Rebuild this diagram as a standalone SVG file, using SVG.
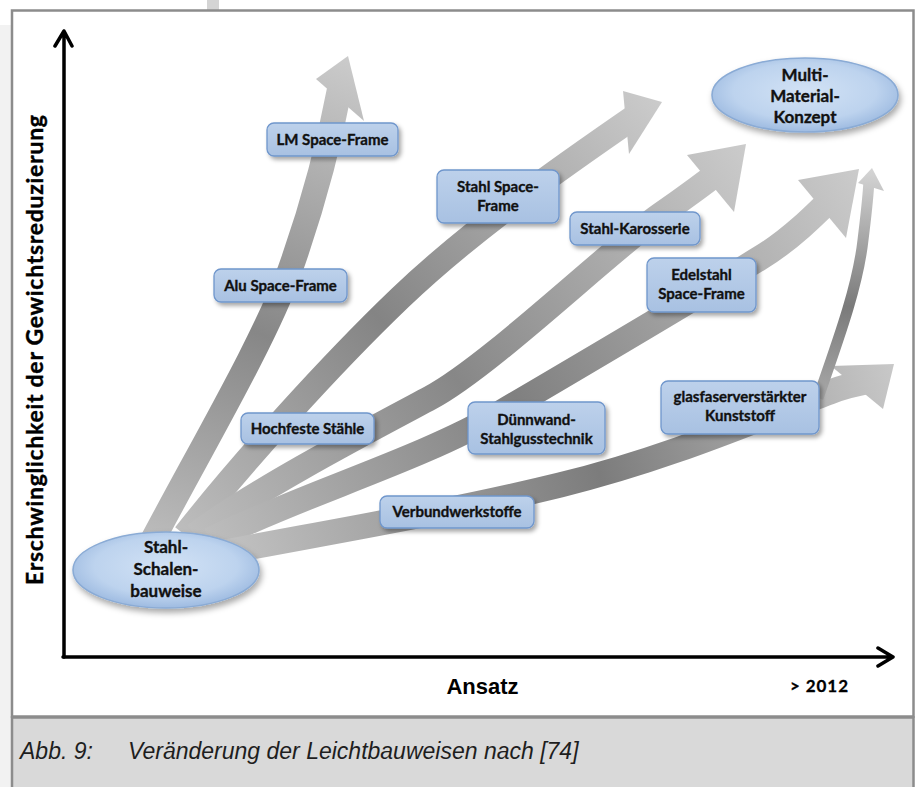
<svg xmlns="http://www.w3.org/2000/svg" width="917" height="787" viewBox="0 0 917 787">
<defs>
<style>
.box{fill:url(#boxg);stroke:#6f96cc;stroke-width:1.3;filter:url(#sh)}
.ell{fill:url(#ellg);stroke:#8aabd5;stroke-width:1.6;filter:url(#sh2)}
.t{font-family:Lato,"Open Sans",sans-serif;font-weight:700;font-size:15px;fill:#111;stroke:#111;stroke-width:0.35;text-anchor:middle}
.te{font-size:17px}
.ax{stroke:#000;stroke-width:3.5;fill:none;stroke-linecap:round;stroke-linejoin:round}
.sh{fill:none;stroke-width:25}
</style>
<linearGradient id="boxg" x1="0" y1="0" x2="0" y2="1"><stop offset="0" stop-color="#bdd1eb"/><stop offset="1" stop-color="#a8c1e2"/></linearGradient>
<radialGradient id="ellg" cx="0.5" cy="0.45" r="0.55"><stop offset="0" stop-color="#d2e2f5"/><stop offset="0.7" stop-color="#bdd3ee"/><stop offset="1" stop-color="#9ebbe1"/></radialGradient>
<filter id="sh" x="-20%" y="-30%" width="140%" height="170%"><feDropShadow dx="2.5" dy="3" stdDeviation="2" flood-color="#000" flood-opacity="0.35"/></filter>
<filter id="sh2" x="-20%" y="-30%" width="140%" height="170%"><feDropShadow dx="2" dy="4" stdDeviation="3" flood-color="#000" flood-opacity="0.35"/></filter>
<linearGradient id="g1" gradientUnits="userSpaceOnUse" x1="150" y1="545" x2="348" y2="57"><stop offset="0" stop-color="#bdbdbd"/><stop offset="0.45" stop-color="#878787"/><stop offset="1" stop-color="#cbcbcb"/></linearGradient>
<linearGradient id="g2" gradientUnits="userSpaceOnUse" x1="185" y1="535" x2="661" y2="102"><stop offset="0" stop-color="#bdbdbd"/><stop offset="0.45" stop-color="#848484"/><stop offset="1" stop-color="#cbcbcb"/></linearGradient>
<linearGradient id="g3" gradientUnits="userSpaceOnUse" x1="195" y1="535" x2="745" y2="145"><stop offset="0" stop-color="#bdbdbd"/><stop offset="0.45" stop-color="#878787"/><stop offset="1" stop-color="#cbcbcb"/></linearGradient>
<linearGradient id="g4" gradientUnits="userSpaceOnUse" x1="210" y1="540" x2="858" y2="170"><stop offset="0" stop-color="#bdbdbd"/><stop offset="0.45" stop-color="#808080"/><stop offset="1" stop-color="#cbcbcb"/></linearGradient>
<linearGradient id="g5" gradientUnits="userSpaceOnUse" x1="225" y1="552" x2="893" y2="365"><stop offset="0" stop-color="#c2c2c2"/><stop offset="0.55" stop-color="#7c7c7c"/><stop offset="1" stop-color="#c8c8c8"/></linearGradient>
<linearGradient id="g6" gradientUnits="userSpaceOnUse" x1="0" y1="398" x2="0" y2="169"><stop offset="0" stop-color="#a8a8a8"/><stop offset="0.4" stop-color="#7a7a7a"/><stop offset="1" stop-color="#d5d5d5"/></linearGradient>
</defs>
<rect width="917" height="787" fill="#fff"/>
<rect x="0" y="25" width="11" height="762" fill="#f2f2f2"/>
<rect x="207" y="0" width="12" height="10" fill="#d4d4d4"/>
<rect x="12" y="10.5" width="901.5" height="706" fill="#fff" stroke="#8c8c8c" stroke-width="2.5"/>
<rect x="12" y="717.5" width="901.5" height="72" fill="#d9d9d9" stroke="#8c8c8c" stroke-width="2.5"/>
<text x="20" y="759" font-family="'Liberation Sans',Arial,sans-serif" font-style="italic" font-size="23" fill="#1e1e1e">Abb. 9:<tspan x="128">Veränderung der Leichtbauweisen nach [74]</tspan></text>

<g id="axes">
<path class="ax" d="M64,657 V31 M55,46 L64,31 L72,46"/>
<path class="ax" d="M63,657 H892 M878,648 L893,657 L878,666"/>
<text transform="translate(43,350) rotate(-90)" text-anchor="middle" font-family="Lato,'Open Sans',sans-serif" font-weight="700" font-size="23" textLength="470" lengthAdjust="spacing" fill="#000" stroke="#000" stroke-width="0.4">Erschwinglichkeit der Gewichtsreduzierung</text>
<text x="482.5" y="694" text-anchor="middle" font-family="'Liberation Sans',Arial,sans-serif" font-weight="700" font-size="22" fill="#000">Ansatz</text>
<text x="790" y="692" font-family="Lato,'Open Sans',sans-serif" font-weight="700" font-size="17" textLength="58" lengthAdjust="spacing" fill="#000" stroke="#000" stroke-width="0.3">&gt; 2012</text>
</g>

<g id="connectors">
<path class="sh" stroke="url(#g1)" d="M150,545 C200,450 265,340 290,270 S330,140 341,82"/>
<polygon fill="url(#g1)" points="316,79 348,56 364,121"/>
<path class="sh" stroke="url(#g2)" d="M185,535 C240,465 330,365 400,298 S560,168 640,113"/>
<polygon fill="url(#g2)" points="623,91 662,102 629,154"/>
<path class="sh" stroke="url(#g3)" d="M195,535 C255,490 370,430 430,398 S610,250 660,215 C690,194 705,183 728,165"/>
<polygon fill="url(#g3)" points="687,155 746,144 734,212"/>
<path class="sh" stroke="url(#g4)" d="M210,540 C300,495 420,460 500,413 S700,295 760,258 C790,240 815,215 838,192"/>
<polygon fill="url(#g4)" points="798,180 859,169 846,238"/>
<path class="sh" stroke="url(#g5)" d="M225,552 C330,532 450,512 560,485 S760,418 830,392 C848,385 860,383 872,381"/>
<polygon fill="url(#g5)" points="831,366 894,364 883,409"/>
<path fill="none" stroke-width="11" stroke="url(#g6)" d="M818,398 C840,335 858,285 863,240 C866,215 868,200 869,180"/>
<polygon fill="url(#g6)" points="858,183 872,168 884,191"/>
</g>

<g id="n-stahl"><ellipse class="ell" cx="166" cy="570" rx="93" ry="38"/><text class="t te" x="166" y="553">Stahl-</text><text class="t te" x="166" y="575">Schalen-</text><text class="t te" x="166" y="597">bauweise</text></g>
<g id="n-multi"><ellipse class="ell" cx="805" cy="95" rx="93" ry="37"/><text class="t te" x="805" y="81">Multi-</text><text class="t te" x="805" y="102">Material-</text><text class="t te" x="805" y="123">Konzept</text></g>
<g id="n-lm"><rect class="box" x="267" y="123" width="131" height="33" rx="7"/><text class="t" x="332.5" y="145">LM Space-Frame</text></g>
<g id="n-alu"><rect class="box" x="214" y="269" width="133" height="33" rx="7"/><text class="t" x="280.5" y="290.5">Alu Space-Frame</text></g>
<g id="n-hoch"><rect class="box" x="241" y="413" width="133" height="31" rx="7"/><text class="t" x="307.5" y="433.5">Hochfeste Stähle</text></g>
<g id="n-verbund"><rect class="box" x="380" y="496" width="154" height="32" rx="7"/><text class="t" x="457" y="517">Verbundwerkstoffe</text></g>
<g id="n-stahlsf"><rect class="box" x="437" y="170" width="122" height="53" rx="7"/><text class="t" x="498" y="192">Stahl Space-</text><text class="t" x="498" y="211">Frame</text></g>
<g id="n-karo"><rect class="box" x="570" y="212" width="130" height="33" rx="7"/><text class="t" x="635" y="233.5">Stahl-Karosserie</text></g>
<g id="n-edel"><rect class="box" x="647" y="258" width="109" height="54" rx="7"/><text class="t" x="701.5" y="280">Edelstahl</text><text class="t" x="701.5" y="299">Space-Frame</text></g>
<g id="n-duenn"><rect class="box" x="468" y="402" width="137" height="52" rx="7"/><text class="t" x="536.5" y="425">Dünnwand-</text><text class="t" x="536.5" y="444">Stahlgusstechnik</text></g>
<g id="n-glas"><rect class="box" x="661" y="381" width="158" height="53" rx="7"/><text class="t" x="740" y="402">glasfaserverstärkter</text><text class="t" x="740" y="421">Kunststoff</text></g>
</svg>
